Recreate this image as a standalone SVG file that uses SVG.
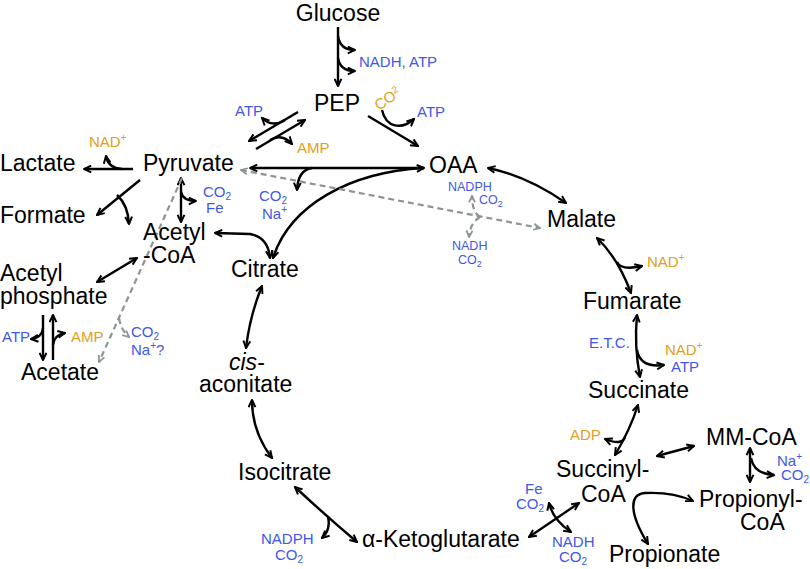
<svg xmlns="http://www.w3.org/2000/svg" width="810" height="569" viewBox="0 0 810 569">
<defs>
<style>
.n{font-family:"Liberation Sans",Arial,sans-serif;font-size:23px;fill:#000}
.s{font-family:"Liberation Sans",Arial,sans-serif;font-size:15px}
.t{font-family:"Liberation Sans",Arial,sans-serif;font-size:12.5px}
.b{fill:#4057e8}
.o{fill:#e0a020}
.c{fill:none;stroke:#000;stroke-width:2.4}
.g{fill:none;stroke:#8c9591;stroke-width:2.2;stroke-dasharray:6 4}
</style>
<marker id="ah" viewBox="0 0 10 10" refX="9" refY="5" markerWidth="9" markerHeight="9" markerUnits="userSpaceOnUse" orient="auto-start-reverse"><path d="M1,1.2 L9,5 L1,8.8" fill="none" stroke="#000" stroke-width="2.2"/></marker>
<marker id="ag" viewBox="0 0 10 10" refX="9" refY="5" markerWidth="8" markerHeight="8" markerUnits="userSpaceOnUse" orient="auto-start-reverse"><path d="M1,1.2 L9,5 L1,8.8" fill="none" stroke="#8c9591" stroke-width="2.2"/></marker>
</defs>
<rect width="810" height="569" fill="#fff"/>

<g id="connectors">
<path class="c" d="M338 27 L338 86" marker-end="url(#ah)"/>
<path class="c" d="M338 36 Q340 50 355 50" marker-end="url(#ah)"/>
<path class="c" d="M338 58 Q340 71 355 71" marker-end="url(#ah)"/>
<path class="c" d="M298 112 L249 141" marker-end="url(#ah)"/>
<path class="c" d="M285 120 Q272 128 262 118" marker-end="url(#ah)"/>
<path class="c" d="M256 149 L305 120" marker-end="url(#ah)"/>
<path class="c" d="M270 140 Q282 133 292 144" marker-end="url(#ah)"/>
<path class="c" d="M368 116 L418 146" marker-end="url(#ah)"/>
<path class="c" d="M382 110 C386 128 402 130 414 119" marker-end="url(#ah)"/>
<path class="c" d="M424 168 L250 168" marker-end="url(#ah)"/>
<path class="c" d="M312 168 Q298 170 297 190" marker-end="url(#ah)"/>
<path class="c" d="M424 168 C350 172 290 205 273 258" marker-start="url(#ah)" marker-end="url(#ah)"/>
<path class="c" d="M215 233 L250 234 Q268 237 270 258" marker-start="url(#ah)" marker-end="url(#ah)"/>
<path class="c" d="M181 178 L181 222" marker-start="url(#ah)" marker-end="url(#ah)"/>
<path class="c" d="M181 192 Q183 201 196 201" marker-end="url(#ah)"/>
<path class="c" d="M133 169 L84 169" marker-end="url(#ah)"/>
<path class="c" d="M122 169 Q108 168 106 156" marker-end="url(#ah)"/>
<path class="c" d="M140 180 L97 215" marker-end="url(#ah)"/>
<path class="c" d="M117 195 Q128 205 129 224" marker-end="url(#ah)"/>
<path class="c" d="M137 258 L97 282" marker-start="url(#ah)" marker-end="url(#ah)"/>
<path class="c" d="M43 315 L43 360" marker-end="url(#ah)"/>
<path class="c" d="M43 328 Q42 338 31 339" marker-end="url(#ah)"/>
<path class="c" d="M53 360 L53 315" marker-end="url(#ah)"/>
<path class="c" d="M53 345 Q54 335 65 333" marker-end="url(#ah)"/>
<path class="g" d="M182 178 L99 362" marker-end="url(#ag)"/>
<path class="g" d="M119 318 Q121 330 129 337" marker-end="url(#ag)"/>
<path class="g" d="M241 170 L540 228" marker-start="url(#ag)" marker-end="url(#ag)"/>
<path class="g" d="M480 217 Q472 212 472 196" marker-end="url(#ag)"/>
<path class="g" d="M480 217 Q470 223 469 237" marker-end="url(#ag)"/>
<path class="c" d="M488 168 Q527 176 566 203" marker-start="url(#ah)" marker-end="url(#ah)"/>
<path class="c" d="M597 238 Q618 258 631 293" marker-start="url(#ah)" marker-end="url(#ah)"/>
<path class="c" d="M617 262 Q621 271 642 266" marker-end="url(#ah)"/>
<path class="c" d="M637 315 Q634 346 640 377" marker-start="url(#ah)" marker-end="url(#ah)"/>
<path class="c" d="M637 350 Q640 368 664 365" marker-end="url(#ah)"/>
<path class="c" d="M638 405 Q630 430 615 455" marker-start="url(#ah)" marker-end="url(#ah)"/>
<path class="c" d="M625 437 Q622 446 605 439" marker-end="url(#ah)"/>
<path class="c" d="M657 456 L694 446" marker-start="url(#ah)" marker-end="url(#ah)"/>
<path class="c" d="M750 448 L750 482" marker-start="url(#ah)" marker-end="url(#ah)"/>
<path class="c" d="M751 458 Q754 474 774 475" marker-end="url(#ah)"/>
<path class="c" d="M648 544 C630 515 628 494 645 493 C665 492 682 496 693 501" marker-start="url(#ah)" marker-end="url(#ah)"/>
<path class="c" d="M529 537 L579 503" marker-start="url(#ah)" marker-end="url(#ah)"/>
<path class="c" d="M549 503 Q553 520 571 532" marker-start="url(#ah)" marker-end="url(#ah)"/>
<path class="c" d="M295 487 Q325 515 357 542" marker-start="url(#ah)" marker-end="url(#ah)"/>
<path class="c" d="M328 516 Q331 530 322 538" marker-end="url(#ah)"/>
<path class="c" d="M252 400 Q252 432 272 458" marker-start="url(#ah)" marker-end="url(#ah)"/>
<path class="c" d="M262 286 Q250 315 246 348" marker-start="url(#ah)" marker-end="url(#ah)"/>
</g>

<g id="glucose"><text class="n" x="338" y="21" text-anchor="middle">Glucose</text></g>
<g id="pep"><text class="n" x="337" y="111" text-anchor="middle">PEP</text></g>
<g id="lactate"><text class="n" x="0" y="171">Lactate</text></g>
<g id="pyruvate"><text class="n" x="143" y="171">Pyruvate</text></g>
<g id="formate"><text class="n" x="0" y="223">Formate</text></g>
<g id="acetyl-coa"><text class="n" x="143" y="240">Acetyl</text><text class="n" x="143" y="263">-CoA</text></g>
<g id="acetyl-phosphate"><text class="n" x="0" y="281">Acetyl</text><text class="n" x="0" y="304">phosphate</text></g>
<g id="acetate"><text class="n" x="21" y="380">Acetate</text></g>
<g id="oaa"><text class="n" x="429" y="173">OAA</text></g>
<g id="malate"><text class="n" x="547" y="227">Malate</text></g>
<g id="citrate"><text class="n" x="231" y="277">Citrate</text></g>
<g id="cis-aconitate"><text class="n" x="229" y="370"><tspan font-style="italic">cis</tspan>-</text><text class="n" x="199" y="392">aconitate</text></g>
<g id="isocitrate"><text class="n" x="238" y="480">Isocitrate</text></g>
<g id="akg"><text class="n" x="362" y="547">α-Ketoglutarate</text></g>
<g id="fumarate"><text class="n" x="583" y="309">Fumarate</text></g>
<g id="succinate"><text class="n" x="588" y="398">Succinate</text></g>
<g id="succinyl-coa"><text class="n" x="556" y="477">Succinyl-</text><text class="n" x="581" y="502">CoA</text></g>
<g id="mm-coa"><text class="n" x="706" y="445">MM-CoA</text></g>
<g id="propionyl-coa"><text class="n" x="699" y="507">Propionyl-</text><text class="n" x="740" y="530">CoA</text></g>
<g id="propionate"><text class="n" x="609" y="562">Propionate</text></g>

<g id="cofactors">
<text class="s b" x="359" y="67">NADH, ATP</text>
<text class="s b" x="235" y="116">ATP</text>
<text class="s o" x="297" y="153">AMP</text>
<text class="s o" x="379" y="111" transform="rotate(-35 379 111)">CO<tspan dy="-5" font-size="10">2</tspan></text>
<text class="s b" x="417" y="117">ATP</text>
<text class="s o" x="89" y="147">NAD<tspan dy="-6" font-size="10">+</tspan></text>
<text class="s b" x="203" y="197">CO<tspan dy="3" font-size="10">2</tspan></text>
<text class="s b" x="206" y="213">Fe</text>
<text class="s b" x="259" y="201">CO<tspan dy="3" font-size="10">2</tspan></text>
<text class="s b" x="262" y="219">Na<tspan dy="-6" font-size="10">+</tspan></text>
<text class="t b" x="448" y="191">NADPH</text>
<text class="t b" x="479" y="204">CO<tspan dy="3" font-size="9">2</tspan></text>
<text class="t b" x="452" y="250">NADH</text>
<text class="t b" x="458" y="264">CO<tspan dy="3" font-size="9">2</tspan></text>
<text class="s o" x="647" y="267">NAD<tspan dy="-6" font-size="10">+</tspan></text>
<text class="s b" x="589" y="348">E.T.C.</text>
<text class="s o" x="665" y="355">NAD<tspan dy="-6" font-size="10">+</tspan></text>
<text class="s b" x="671" y="372">ATP</text>
<text class="s o" x="570" y="440">ADP</text>
<text class="s b" x="777" y="466">Na<tspan dy="-6" font-size="10">+</tspan></text>
<text class="s b" x="781" y="480">CO<tspan dy="3" font-size="10">2</tspan></text>
<text class="s b" x="525" y="494">Fe</text>
<text class="s b" x="516" y="509">CO<tspan dy="3" font-size="10">2</tspan></text>
<text class="s b" x="552" y="547">NADH</text>
<text class="s b" x="559" y="562">CO<tspan dy="3" font-size="10">2</tspan></text>
<text class="s b" x="261" y="544">NADPH</text>
<text class="s b" x="275" y="560">CO<tspan dy="3" font-size="10">2</tspan></text>
<text class="s b" x="2" y="342">ATP</text>
<text class="s o" x="71" y="342">AMP</text>
<text class="s b" x="131" y="337">CO<tspan dy="3" font-size="10">2</tspan></text>
<text class="s b" x="131" y="355">Na<tspan dy="-6" font-size="10">+</tspan><tspan dy="6">?</tspan></text>
</g>
</svg>
